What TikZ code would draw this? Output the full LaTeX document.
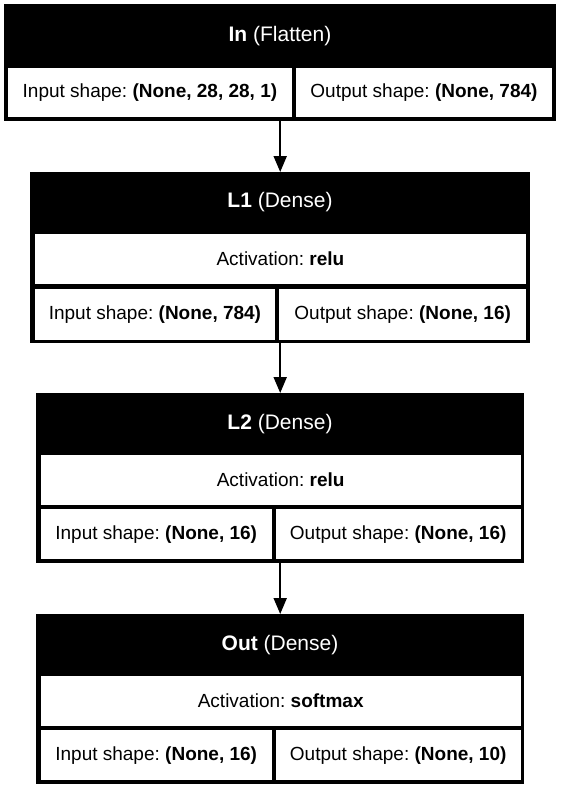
\documentclass[tikz,border=0pt]{standalone}
\usepackage{fontspec}
\setmainfont{Liberation Sans}
\frenchspacing
\usetikzlibrary{arrows.meta}
\tikzset{
  layerbox/.style={fill=black, inner sep=0pt, anchor=north west},
  cellbox/.style={fill=white, inner sep=0pt, anchor=north west, font={\fontsize{19}{23}\selectfont}},
  headtext/.style={text=white, inner sep=0pt, font={\fontsize{21}{25}\selectfont}},
  flow/.style={line width=2pt, -{Triangle[length=16pt,width=13pt]}}
}
\begin{document}
\begin{tikzpicture}[x=1pt,y=-1pt]
	    \useasboundingbox (0,0) rectangle (560,790);
	    % In (Flatten)
	    \node[layerbox, minimum width=552pt, minimum height=117pt] (in) at (4,4) {};
	    \node[headtext] (in-head) at (280,36) {\textbf{In} (Flatten)};
	    \node[cellbox, minimum width=283.5pt, minimum height=49.5pt] (in-inp) at (8,67.5) {Input shape: \textbf{(None, 28, 28, 1)}};
	    \node[cellbox, minimum width=256.5pt, minimum height=49.5pt] (in-outp) at (295.5,67.5) {Output shape: \textbf{(None, 784)}};
	    % L1 (Dense)
	    \node[layerbox, minimum width=500pt, minimum height=171pt] (l1) at (30,172) {};
	    \node[headtext] (l1-head) at (280,202.5) {\textbf{L1} (Dense)};
	    \node[cellbox, minimum width=491.5pt, minimum height=50pt] (l1-act) at (34.5,233.5) {Activation: \textbf{relu}};
	    \node[cellbox, minimum width=240.5pt, minimum height=51pt] (l1-inp) at (34.5,289) {Input shape: \textbf{(None, 784)}};
	    \node[cellbox, minimum width=247pt, minimum height=51pt] (l1-outp) at (279,289) {Output shape: \textbf{(None, 16)}};
	    % L2 (Dense)
	    \node[layerbox, minimum width=488pt, minimum height=169.5pt] (l2) at (36,393) {};
	    \node[headtext] (l2-head) at (280,424) {\textbf{L2} (Dense)};
	    \node[cellbox, minimum width=480pt, minimum height=50pt] (l2-act) at (40.5,455) {Activation: \textbf{relu}};
	    \node[cellbox, minimum width=231pt, minimum height=50pt] (l2-inp) at (40.5,509) {Input shape: \textbf{(None, 16)}};
	    \node[cellbox, minimum width=245pt, minimum height=50pt] (l2-outp) at (275.5,509) {Output shape: \textbf{(None, 16)}};
	    % Out (Dense)
	    \node[layerbox, minimum width=488pt, minimum height=169.5pt] (out) at (36,614) {};
	    \node[headtext] (out-head) at (280,645) {\textbf{Out} (Dense)};
	    \node[cellbox, minimum width=480pt, minimum height=50pt] (out-act) at (40.5,676) {Activation: \textbf{softmax}};
	    \node[cellbox, minimum width=231pt, minimum height=50pt] (out-inp) at (40.5,730) {Input shape: \textbf{(None, 16)}};
	    \node[cellbox, minimum width=245pt, minimum height=50pt] (out-outp) at (275.5,730) {Output shape: \textbf{(None, 10)}};
	    % connectors
	    \draw[flow] (in.south) -- (l1.north);
	    \draw[flow] (l1.south) -- (l2.north);
	    \draw[flow] (l2.south) -- (out.north);
	\end{tikzpicture}
\end{document}
